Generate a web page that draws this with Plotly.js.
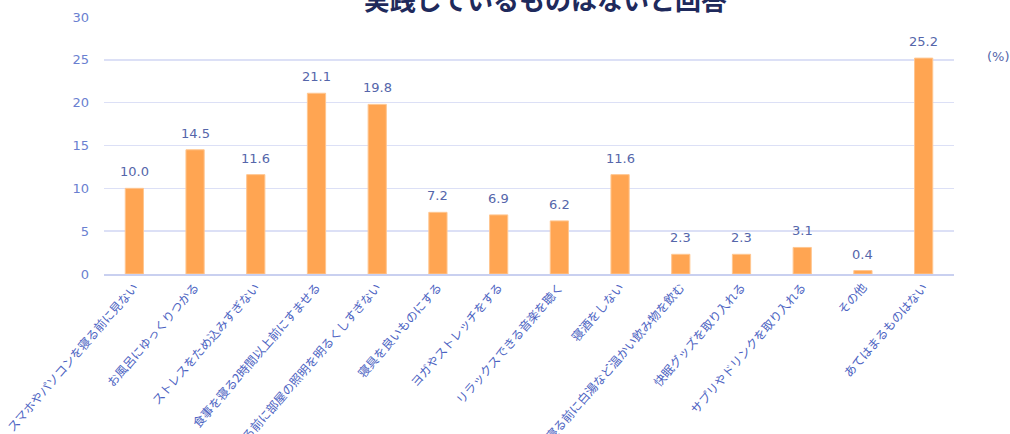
<!DOCTYPE html>
<html>
<head>
<meta charset="utf-8">
<script src="https://cdn.plot.ly/plotly-3.0.1.min.js"></script>
<style>html,body{margin:0;padding:0;background:#fff;}#chart{width:1010px;height:434px;}</style>
</head>
<body>
<div id="chart"></div>
<script>
const categories = [
  "スマホやパソコンを寝る前に見ない",
  "お風呂にゆっくりつかる",
  "ストレスをため込みすぎない",
  "食事を寝る2時間以上前にすませる",
  "寝る前に部屋の照明を明るくしすぎない",
  "寝具を良いものにする",
  "ヨガやストレッチをする",
  "リラックスできる音楽を聴く",
  "寝酒をしない",
  "寝る前に白湯など温かい飲み物を飲む",
  "快眠グッズを取り入れる",
  "サプリやドリンクを取り入れる",
  "その他",
  "あてはまるものはない"
];
const values = [10.0, 14.5, 11.6, 21.1, 19.8, 7.2, 6.9, 6.2, 11.6, 2.3, 2.3, 3.1, 0.4, 25.2];
const yTicks = [0, 5, 10, 15, 20, 25, 30];
const titleText = "実践しているものはないと回答";
const unitText = "(%)";

const labelColor = "#4C63C2";
const fontFam = "DejaVu Sans, Noto Sans CJK JP, sans-serif";

const annotations = categories.map((c, i) => ({
  x: c, y: values[i], xref: "x", yref: "y",
  text: values[i].toFixed(1), showarrow: false,
  yanchor: "bottom", yshift: 7,
  font: {family: fontFam, size: 13, color: "#5566AA"}
}));
annotations.push({
  xref: "paper", yref: "paper", x: 1.068, y: 0.846, xanchor: "right", yanchor: "middle",
  text: unitText, showarrow: false,
  font: {family: fontFam, size: 13, color: "#5566AA"}
});

const trace = {
  type: "bar",
  x: categories,
  y: values,
  marker: {color: "#FFA552", line: {color: "#FFC690", width: 1}},
  hoverinfo: "x+y"
};

const layout = {
  width: 1010, height: 434,
  margin: {l: 104, r: 56, t: 17, b: 160},
  paper_bgcolor: "#ffffff", plot_bgcolor: "#ffffff",
  showlegend: false,
  bargap: 0.70,
  title: {
    text: titleText, x: 0.54, xanchor: "center", y: 0.997, yanchor: "middle",
    font: {family: "Noto Sans CJK JP, sans-serif", size: 26, color: "#1F2A5C", weight: 700}
  },
  xaxis: {
    type: "category",
    tickangle: -49,
    tickfont: {family: "Noto Sans CJK JP, sans-serif", size: 12, color: labelColor},
    showline: true, linecolor: "#C9D0F0", linewidth: 1.5,
    ticks: "", showgrid: false, automargin: false
  },
  yaxis: {
    range: [0, 30],
    tickvals: yTicks,
    tickfont: {family: fontFam, size: 13, color: "#6A7FD0"},
    gridcolor: "#DCE0F6", gridwidth: 1.5,
    zeroline: false, showline: false, ticks: "",
    ticklabelstandoff: 14,
    automargin: false
  },
  annotations: annotations
};

Plotly.newPlot("chart", [trace], layout, {displayModeBar: false, staticPlot: true});
</script>
</body>
</html>
